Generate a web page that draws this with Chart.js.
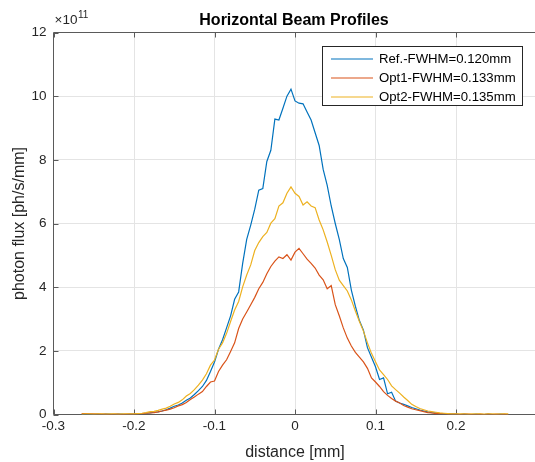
<!DOCTYPE html>
<html><head><meta charset="utf-8">
<script src="https://cdn.jsdelivr.net/npm/chart.js@4"></script>
<style>
html,body{margin:0;padding:0;background:#fff;overflow:hidden;}
#wrap{position:relative;width:545px;height:462px;}
</style></head><body>
<div id="wrap"><canvas id="c"></canvas></div>
<script>
const distance = [
 -0.265,-0.26,-0.255,-0.25,-0.245,-0.24,-0.235,-0.23,-0.225,-0.22,
 -0.215,-0.21,-0.205,-0.2,-0.195,-0.19,-0.185,-0.18,-0.175,-0.17,
 -0.165,-0.16,-0.155,-0.15,-0.145,-0.14,-0.135,-0.13,-0.125,-0.12,
 -0.115,-0.11,-0.105,-0.1,-0.095,-0.09,-0.085,-0.08,-0.075,-0.07,
 -0.065,-0.06,-0.055,-0.05,-0.045,-0.04,-0.035,-0.03,-0.025,-0.02,
 -0.015,-0.01,-0.005,0,0.005,0.01,0.015,0.02,0.025,0.03,
 0.035,0.04,0.045,0.05,0.055,0.06,0.065,0.07,0.075,0.08,
 0.085,0.09,0.095,0.1,0.105,0.11,0.115,0.12,0.125,0.13,
 0.135,0.14,0.145,0.15,0.155,0.16,0.165,0.17,0.175,0.18,
 0.185,0.19,0.195,0.2,0.205,0.21,0.215,0.22,0.225,0.23,
 0.235,0.24,0.245,0.25,0.255,0.26,0.265
];
const refFlux = [
 0.00,0.00,0.01,0.00,0.01,0.00,0.01,0.01,0.00,0.01,
 0.01,0.00,0.01,0.01,0.02,0.03,0.04,0.05,0.07,0.08,
 0.11,0.15,0.20,0.26,0.30,0.36,0.45,0.52,0.63,0.75,
 0.88,1.07,1.35,1.65,2.05,2.35,2.72,3.10,3.62,3.85,
 4.75,5.50,5.95,6.45,7.05,7.10,7.95,8.30,9.28,9.25,
 9.62,10.00,10.22,9.85,9.78,9.76,9.50,9.25,8.85,8.45,
 7.70,7.20,6.55,6.00,5.50,4.90,4.62,3.91,3.40,2.95,
 2.65,2.10,1.80,1.50,1.10,1.15,0.65,0.70,0.42,0.36,
 0.32,0.27,0.22,0.18,0.14,0.11,0.08,0.06,0.05,0.03,
 0.02,0.02,0.01,0.01,0.00,0.01,0.00,0.00,0.01,0.00,
 0.00,0.01,0.00,0.00,0.01,0.00,0.00
];
const opt1Flux = [
 0.03,0.03,0.02,0.02,0.01,0.01,0.01,0.00,0.01,0.01,
 0.00,0.01,0.01,0.01,0.02,0.03,0.04,0.05,0.06,0.08,
 0.11,0.14,0.17,0.21,0.27,0.31,0.38,0.47,0.55,0.64,
 0.72,0.88,1.02,1.05,1.35,1.55,1.72,1.98,2.25,2.70,
 3.00,3.22,3.45,3.68,3.95,4.15,4.42,4.65,4.82,4.95,
 4.90,5.02,4.85,5.10,5.22,5.05,4.88,4.75,4.60,4.38,
 4.23,3.95,4.05,3.45,3.10,2.72,2.40,2.15,1.95,1.80,
 1.65,1.45,1.15,1.02,0.88,0.72,0.60,0.50,0.42,0.36,
 0.28,0.23,0.18,0.15,0.12,0.09,0.06,0.05,0.03,0.03,
 0.02,0.01,0.01,0.01,0.00,0.01,0.01,0.00,0.00,0.01,
 0.00,0.01,0.00,0.01,0.00,0.01,0.00
];
const opt2Flux = [
 0.01,0.02,0.02,0.01,0.02,0.02,0.01,0.02,0.02,0.01,
 0.02,0.02,0.02,0.02,0.03,0.04,0.06,0.09,0.10,0.13,
 0.17,0.20,0.26,0.33,0.38,0.46,0.58,0.66,0.78,0.92,
 1.08,1.28,1.55,1.71,2.05,2.25,2.55,2.92,3.28,3.55,
 4.01,4.38,4.70,5.15,5.40,5.59,5.72,6.01,6.15,6.55,
 6.65,6.95,7.15,6.95,6.85,6.58,6.68,6.55,6.50,6.11,
 5.80,5.42,5.00,4.55,4.22,4.05,3.88,3.60,3.25,2.92,
 2.62,2.25,1.92,1.66,1.40,1.25,1.10,0.90,0.78,0.67,
 0.55,0.44,0.32,0.25,0.19,0.15,0.11,0.09,0.07,0.05,
 0.04,0.03,0.02,0.02,0.02,0.02,0.01,0.02,0.02,0.02,
 0.01,0.02,0.02,0.01,0.02,0.02,0.02
];
const seriesLabels = ['Ref.-FWHM=0.120mm','Opt1-FWHM=0.133mm','Opt2-FWHM=0.135mm'];
const seriesColors = ['#0072BD','#D95319','#EDB120'];
const xTicks = [-0.3,-0.2,-0.1,0,0.1,0.2,0.3];
const yTicks = [0,2,4,6,8,10,12];
const chartTitle = 'Horizontal Beam Profiles';
const xTitle = 'distance [mm]';
const yTitle = 'photon flux [ph/s/mm]';
const yExponent = '11';

const FONT = '"Liberation Sans", Arial, Helvetica, sans-serif';
const AX = '#262626';

function pts(arr){ return distance.map((d,i)=>({x:d,y:arr[i]})); }
function fmt(v){ return String(Number(v.toFixed(1))); }

const frame = {
  id:'frame',
  beforeDatasetsDraw(chart){
    const {ctx, chartArea:{left,right,top,bottom}, scales:{x,y}} = chart;
    ctx.save();
    ctx.strokeStyle = '#5a5a5a';
    ctx.lineWidth = 1;
    ctx.beginPath();
    ctx.moveTo(left, top); ctx.lineTo(left, bottom); ctx.lineTo(right+2, bottom);
    ctx.moveTo(left, top); ctx.lineTo(right+2, top);
    xTicks.forEach(v=>{
      const px = Math.round(x.getPixelForValue(v)) + 0.5;
      ctx.moveTo(px, bottom); ctx.lineTo(px, bottom-5);
      ctx.moveTo(px, top); ctx.lineTo(px, top+5);
    });
    yTicks.forEach(v=>{
      const py = Math.round(y.getPixelForValue(v)) + 0.5;
      ctx.moveTo(left, py); ctx.lineTo(left+5, py);
    });
    ctx.stroke();
    ctx.restore();
  },
  afterDraw(chart){
    const {ctx, chartArea:{left,right,top}} = chart;
    ctx.save();
    // title
    ctx.fillStyle = '#000';
    ctx.font = 'bold 16px ' + FONT;
    ctx.textAlign = 'center';
    ctx.textBaseline = 'alphabetic';
    ctx.fillText(chartTitle, (left+right)/2 - 1, 25);
    // exponent
    ctx.fillStyle = AX;
    ctx.textAlign = 'left';
    ctx.font = '13.5px ' + FONT;
    ctx.fillText('\u00d710', left + 1, 24);
    const w = ctx.measureText('\u00d710').width;
    ctx.font = '10px ' + FONT;
    ctx.fillText(yExponent, left + 1 + w + 0.5, 18);
    // legend
    const bx = 322.5, by = 46.5, bw = 200, bh = 59;
    ctx.fillStyle = '#fff';
    ctx.fillRect(bx, by, bw, bh);
    ctx.strokeStyle = '#262626';
    ctx.lineWidth = 1;
    ctx.strokeRect(bx, by, bw, bh);
    ctx.font = '13.2px ' + FONT;
    ctx.textBaseline = 'middle';
    const rows = [59, 78, 97];
    chart.data.datasets.forEach((ds, i)=>{
      ctx.strokeStyle = ds.borderColor;
      ctx.lineWidth = 1.2;
      ctx.beginPath();
      ctx.moveTo(331, rows[i]); ctx.lineTo(373, rows[i]);
      ctx.stroke();
      ctx.fillStyle = '#000';
      ctx.fillText(ds.label, 379, rows[i] + 0.5);
    });
    ctx.restore();
  }
};

new Chart(document.getElementById('c'), {
  type: 'line',
  data: {
    datasets: [
      {label: seriesLabels[0], data: pts(refFlux), borderColor: seriesColors[0], order: 2},
      {label: seriesLabels[1], data: pts(opt1Flux), borderColor: seriesColors[1], order: 1},
      {label: seriesLabels[2], data: pts(opt2Flux), borderColor: seriesColors[2], order: 0}
    ]
  },
  options: {
    responsive: true,
    maintainAspectRatio: false,
    animation: false,
    events: [],
    elements: {
      point: {radius: 0},
      line: {borderWidth: 1.2, tension: 0, fill: false}
    },
    layout: {padding: {left: 0, right: 8.5, top: 32.5, bottom: 0}, autoPadding: false},
    plugins: {legend: {display: false}, tooltip: {enabled: false}, title: {display: false}},
    scales: {
      x: {
        type: 'linear', position: 'bottom', min: -0.3, max: 0.3,
        afterBuildTicks: s => { s.ticks = xTicks.map(v=>({value:v})); },
        afterFit: s => { s.height = 47.5; },
        ticks: {autoSkip: false, maxRotation: 0, padding: 4, color: AX,
                font: {family: FONT, size: 13.5},
                callback: v => (Math.abs(v - 0.3) < 1e-9 ? '' : fmt(v))},
        grid: {color: '#e4e4e4', drawTicks: false, lineWidth: 1},
        border: {display: false},
        title: {display: true, text: xTitle, color: AX, font: {family: FONT, size: 16}, padding: {top: 0, bottom: 0}}
      },
      y: {
        type: 'linear', position: 'left', min: 0, max: 12,
        afterBuildTicks: s => { s.ticks = yTicks.map(v=>({value:v})); },
        afterFit: s => { s.width = 53.5; },
        ticks: {padding: 7, color: AX, font: {family: FONT, size: 13.5}},
        grid: {color: '#e4e4e4', drawTicks: false, lineWidth: 1},
        border: {display: false},
        title: {display: true, text: yTitle, color: AX, font: {family: FONT, size: 16}, padding: {top: 10, bottom: 0}}
      }
    }
  },
  plugins: [frame]
});
</script>
</body></html>
